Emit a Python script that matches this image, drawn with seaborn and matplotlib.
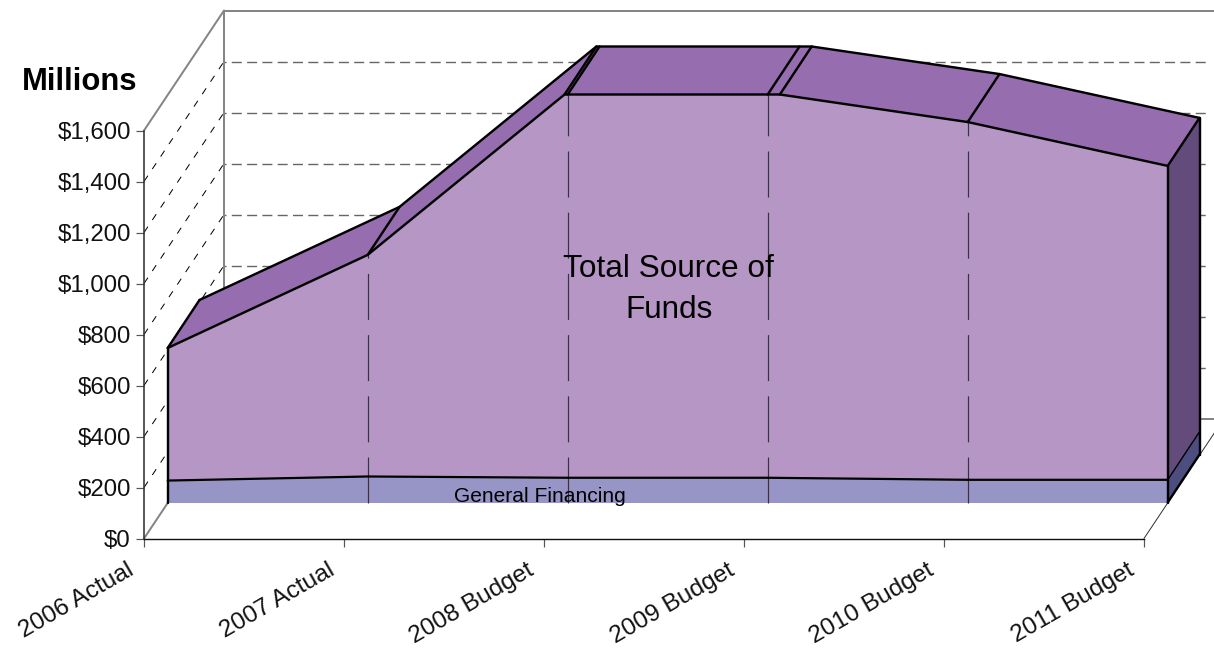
import pandas as pd
import seaborn as sns
import matplotlib.pyplot as plt
from matplotlib.transforms import Affine2D

years = ["2006 Actual", "2007 Actual", "2008 Budget", "2009 Budget", "2010 Budget", "2011 Budget"]
total_funds = [606, 971, 1610, 1607, 1492, 1320]
general_financing = [86, 102, 97, 97, 89, 89]
y_ticks = [0, 200, 400, 600, 800, 1000, 1200, 1400, 1600]
y_top = 1600

# depth of the fake 3d, in pixels (right, up)
FRONT = (23.7, 36)
BACK = (55.5, 84)
WALL = (80, 120)

PX = 0.72  # points per pixel at dpi 100

sns.set_theme(style="white", font="Liberation Sans")
plt.rcParams["lines.scale_dashes"] = False

fig = plt.figure(figsize=(12.14, 6.49), dpi=100)
ax = fig.add_axes([144 / 1214, (649 - 538.5) / 649, 1000 / 1214, 408 / 649])
ax.set_xlim(0, len(years) - 1)
ax.set_ylim(0, y_top)


def shift(x, y, depth):
    # move data coords back into the chart by a pixel offset
    return x + depth[0] * (len(years) - 1) / 1000, y + depth[1] * y_top / 408


def clip_top(vals):
    # area is cut off at the axis max, keep the crossing points too
    xs, ys = [], []
    for i, v in enumerate(vals):
        if i > 0 and (vals[i - 1] - y_top) * (v - y_top) < 0:
            xs.append(i - 1 + (y_top - vals[i - 1]) / (v - vals[i - 1]))
            ys.append(y_top)
        xs.append(i)
        ys.append(min(v, y_top))
    return xs, ys


def seg(p0, p1, **kw):
    ax.plot([p0[0], p1[0]], [p0[1], p1[1]], clip_on=False, **kw)


n = len(years) - 1
black = dict(color="black", lw=2.4 * PX)
gray = dict(color="#858585", lw=2 * PX)

# walls and floor
for v in y_ticks[1:-1]:
    seg(shift(0, v, (0, 0)), shift(0, v, WALL), color="black", lw=1 * PX,
        linestyle=(0, (7 * PX, 8 * PX)), zorder=1)
    seg(shift(0, v, WALL), shift(n - 0.085, v, WALL), color="#666666", lw=1.4 * PX,
        linestyle=(8 * PX, (10 * PX, 5.3 * PX)), zorder=1)
seg(shift(0, 0, WALL), shift(0, y_top, WALL), zorder=1, **gray)
seg(shift(0, y_top, WALL), shift(n, y_top, WALL), zorder=1, **gray)
seg(shift(0, y_top, (0, 0)), shift(0, y_top, WALL), zorder=1, **gray)
seg(shift(0, 0, WALL), shift(n, 0, WALL), zorder=1, **gray)
seg((0, 0), shift(0, 0, WALL), zorder=1, **gray)
seg((n, 0), shift(n, 0, WALL), color="#333333", lw=1 * PX, zorder=1)

# top surface of the total area
xs, ys = clip_top(total_funds)
for i in range(len(xs) - 1):
    fx0, fy0 = shift(xs[i], ys[i], FRONT)
    fx1, fy1 = shift(xs[i + 1], ys[i + 1], FRONT)
    bx0, by0 = shift(xs[i], ys[i], BACK)
    bx1, by1 = shift(xs[i + 1], ys[i + 1], BACK)
    ax.fill([fx0, fx1, bx1, bx0], [fy0, fy1, by1, by0], color="#966DAE", lw=0, clip_on=False, zorder=2)

# right side faces
fx, fy = shift(n, total_funds[-1], FRONT)
bx, by = shift(n, total_funds[-1], BACK)
fx0, fy0 = shift(n, 0, FRONT)
bx0, by0 = shift(n, 0, BACK)
ax.fill([fx, bx, bx0, fx0], [fy, by, by0, fy0], color="#634C7C", lw=0, clip_on=False, zorder=2)
gx, gy = shift(n, general_financing[-1], FRONT)
hx, hy = shift(n, general_financing[-1], BACK)
ax.fill([gx, hx, bx0, fx0], [gy, hy, by0, fy0], color="#4D4D80", lw=0, clip_on=False, zorder=2)

# front faces
front = [shift(x, y, FRONT) for x, y in zip(xs, ys)]
base = shift(0, 0, FRONT)[1]
ax.fill_between([p[0] for p in front], [p[1] for p in front], base, color="#B596C4", lw=0, clip_on=False, zorder=3)
gen_front = [shift(i, v, FRONT) for i, v in enumerate(general_financing)]
ax.fill_between([p[0] for p in gen_front], [p[1] for p in gen_front], base, color="#9794C6", lw=0, clip_on=False, zorder=3)

# drop lines between the years
for i in range(1, n):
    seg(shift(i, 0, FRONT), shift(i, min(total_funds[i], y_top), FRONT), color="#3C2F4A", lw=1.2 * PX,
        linestyle=(0, (46 * PX, 15.2 * PX)), zorder=4)

# outlines
back = [shift(x, y, BACK) for x, y in zip(xs, ys)]
outlines = pd.DataFrame({
    "fx": [p[0] for p in front], "fy": [p[1] for p in front],
    "bx": [p[0] for p in back], "by": [p[1] for p in back],
})
sns.lineplot(data=outlines, x="fx", y="fy", estimator=None, sort=False, ax=ax, color="black",
             lw=2.4 * PX, clip_on=False, zorder=5)
sns.lineplot(data=outlines, x="bx", y="by", estimator=None, sort=False, ax=ax, color="black",
             lw=2.4 * PX, clip_on=False, zorder=5)
gen_df = pd.DataFrame({"x": [p[0] for p in gen_front], "y": [p[1] for p in gen_front]})
sns.lineplot(data=gen_df, x="x", y="y", estimator=None, sort=False, ax=ax, color="black",
             lw=2.2 * PX, clip_on=False, zorder=5)
for p, q in zip(front, back):
    seg(p, q, zorder=5, **black)
seg(front[0], (front[0][0], base), zorder=5, **black)
seg(front[-1], (front[-1][0], base), zorder=5, **black)
seg(back[-1], (back[-1][0], shift(0, 0, BACK)[1]), zorder=5, **black)
seg(gen_front[-1], shift(n, general_financing[-1], BACK), color="black", lw=1.4 * PX, zorder=5)
seg((front[-1][0], base), (back[-1][0], shift(0, 0, BACK)[1]), zorder=5, **black)

# axes
sns.despine(ax=ax)
ax.spines["left"].set_color("#333333")
ax.spines["left"].set_linewidth(1.6 * PX)
ax.spines["bottom"].set_color("#111111")
ax.spines["bottom"].set_linewidth(1.4 * PX)
ax.set_xlabel("")
ax.set_ylabel("")
ax.set_yticks(y_ticks)
ax.set_yticklabels([f"${v:,}" for v in y_ticks], fontsize=24 * PX, color="#111111")
ax.set_xticks(range(len(years)))
ax.set_xticklabels(years, rotation=30, ha="right", va="top", rotation_mode="anchor",
                   fontsize=24.5 * PX, color="#111111")
ax.tick_params(axis="both", bottom=True, left=True, length=8 * PX, width=1.2 * PX, color="#555555", pad=5 * PX)
# nudge the rotated labels down and left
for label in ax.get_xticklabels():
    label.set_transform(label.get_transform() + Affine2D().translate(-17, -8))
ax.set_xlim(0, n)
ax.set_ylim(0, y_top)

fig.text(79.5 / 1214, 1 - 82 / 649, "Millions", fontsize=31 * PX, fontweight="bold",
         ha="center", va="center", color="black")
label_x, label_y = shift(2.505, 835, FRONT)
ax.text(label_x, label_y, "Total Source of\nFunds", fontsize=31.5 * PX, ha="center", va="center",
        color="black", linespacing=1.46, zorder=6)
gen_x, gen_y = shift(1.86, 24, FRONT)
ax.text(gen_x, gen_y, "General Financing", fontsize=21 * PX, ha="center", va="center",
        color="black", zorder=6)

plt.savefig("out.png", dpi=100)
